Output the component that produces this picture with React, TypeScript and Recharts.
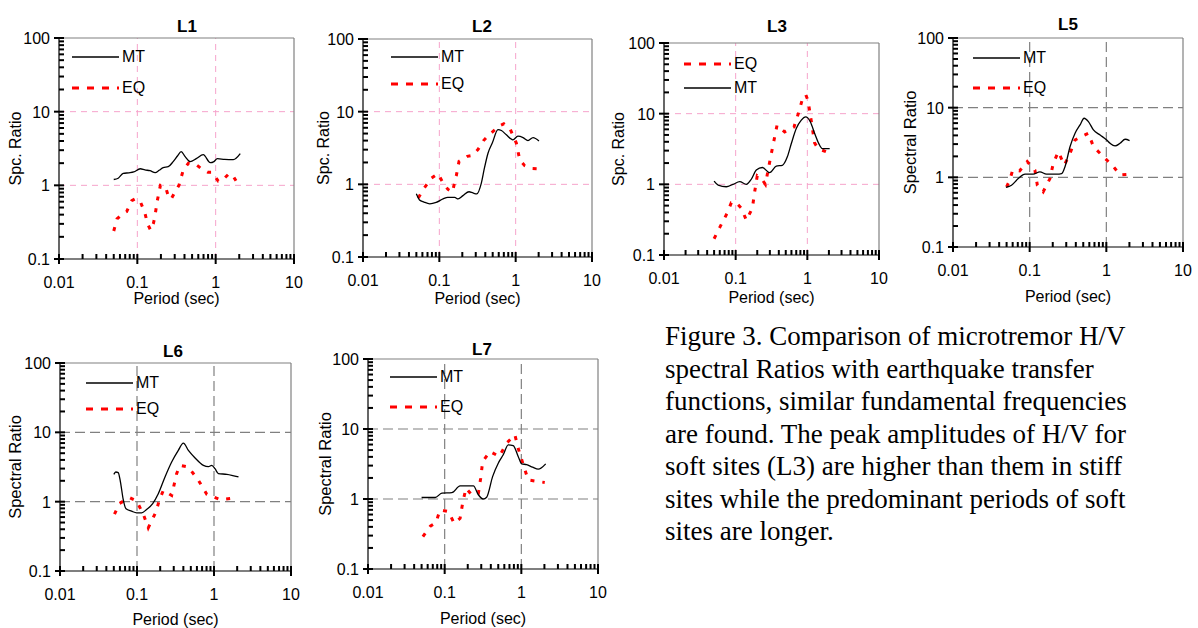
import React from 'react';
import { LineChart, Line, XAxis, YAxis, ReferenceLine, Legend } from 'recharts';

// axis ticks (log decades, minor ticks at 2..9)
const X_MAJOR = [0.01, 0.1, 1, 10];
const Y_MAJOR = [0.1, 1, 10, 100];
const MANTISSA = [1, 2, 3, 4, 5, 6, 7, 8, 9];
const X_TICKS = [...X_MAJOR.slice(0, 3).flatMap((d) => MANTISSA.map((m) => +(m * d).toPrecision(2))), 10];
const Y_TICKS = [...Y_MAJOR.slice(0, 3).flatMap((d) => MANTISSA.map((m) => +(m * d).toPrecision(2))), 100];

// L1
const L1_MT_T = [0.05, 0.057, 0.066, 0.078, 0.09, 0.109, 0.125, 0.145, 0.169, 0.19, 0.214, 0.248, 0.287, 0.325, 0.363, 0.408, 0.473, 0.565, 0.694, 0.853, 0.95, 1.05, 1.3, 1.68, 2.06];
const L1_MT = [1.2, 1.25, 1.45, 1.48, 1.52, 1.68, 1.62, 1.58, 1.49, 1.6, 1.74, 1.79, 2.1, 2.5, 2.87, 2.45, 2.1, 2.3, 2.61, 2.03, 2.1, 2.3, 2.25, 2.23, 2.69];
const L1_EQ_T = [0.05, 0.055, 0.063, 0.073, 0.085, 0.095, 0.11, 0.125, 0.135, 0.148, 0.16, 0.167, 0.18, 0.197, 0.215, 0.23, 0.25, 0.27, 0.3, 0.34, 0.385, 0.45, 0.55, 0.65, 0.8, 0.9, 1.08, 1.2, 1.49, 1.7, 1.94, 2.05];
const L1_EQ = [0.24, 0.35, 0.4, 0.44, 0.62, 0.66, 0.59, 0.42, 0.3, 0.245, 0.3, 0.37, 0.62, 1.0, 0.98, 0.94, 0.7, 0.65, 0.8, 1.0, 1.6, 2.0, 1.95, 1.7, 1.5, 1.5, 1.14, 1.15, 1.45, 1.3, 1.02, 0.95];

// L2
const L2_MT_T = [0.05, 0.055, 0.063, 0.075, 0.091, 0.112, 0.129, 0.159, 0.176, 0.204, 0.245, 0.276, 0.31, 0.355, 0.39, 0.435, 0.494, 0.587, 0.65, 0.755, 0.92, 1.07, 1.25, 1.45, 1.69, 2.02];
const L2_MT = [0.74, 0.61, 0.57, 0.54, 0.565, 0.63, 0.66, 0.66, 0.63, 0.7, 0.79, 0.76, 0.74, 1.04, 1.68, 2.7, 3.7, 5.65, 5.5, 4.8, 4.1, 4.6, 4.4, 4.0, 4.4, 3.95];
const L2_EQ_T = [0.053, 0.062, 0.079, 0.096, 0.114, 0.13, 0.148, 0.167, 0.181, 0.233, 0.27, 0.32, 0.38, 0.447, 0.617, 0.7, 0.835, 1.02, 1.13, 1.31, 1.6, 2.02];
const L2_EQ = [0.65, 0.86, 1.22, 1.4, 1.01, 0.85, 0.78, 1.32, 2.07, 2.43, 2.5, 3.0, 4.0, 4.8, 6.4, 6.8, 5.96, 3.7, 2.18, 1.81, 1.65, 1.63];

// L3
const L3_MT_T = [0.05, 0.057, 0.074, 0.092, 0.114, 0.141, 0.166, 0.194, 0.236, 0.298, 0.369, 0.448, 0.526, 0.598, 0.703, 0.824, 0.948, 1.1, 1.27, 1.44, 1.62, 2.05];
const L3_MT = [1.11, 0.975, 0.925, 1.0, 1.09, 1.0, 1.19, 1.59, 1.73, 1.46, 1.81, 1.86, 2.45, 3.78, 6.2, 8.1, 9.0, 7.7, 5.2, 3.8, 3.2, 3.2];
const L3_EQ_T = [0.05, 0.06, 0.076, 0.087, 0.1, 0.12, 0.141, 0.171, 0.184, 0.2, 0.23, 0.26, 0.308, 0.339, 0.378, 0.483, 0.652, 0.76, 0.87, 0.95, 1.02, 1.17, 1.26, 1.41, 1.84, 2.05];
const L3_EQ = [0.17, 0.246, 0.39, 0.55, 0.56, 0.46, 0.31, 0.46, 0.78, 1.32, 1.2, 1.0, 2.45, 3.98, 6.87, 5.53, 6.5, 10.5, 17.3, 18.5, 15.5, 6.5, 3.87, 3.2, 2.88, 2.8];

// L5
const L5_MT_T = [0.049, 0.058, 0.071, 0.087, 0.111, 0.136, 0.166, 0.225, 0.261, 0.289, 0.336, 0.391, 0.454, 0.513, 0.584, 0.679, 0.83, 1.01, 1.12, 1.3, 1.51, 1.76, 2.01];
const L5_MT = [0.72, 0.77, 0.96, 1.11, 1.11, 1.2, 1.11, 1.11, 1.13, 1.42, 2.75, 4.3, 5.65, 7.05, 6.3, 4.79, 4.05, 3.44, 3.08, 2.82, 3.08, 3.52, 3.37];
const L5_EQ_T = [0.05, 0.055, 0.06, 0.074, 0.093, 0.117, 0.126, 0.15, 0.184, 0.203, 0.236, 0.283, 0.336, 0.391, 0.454, 0.584, 0.679, 0.916, 1.24, 1.51, 1.95];
const L5_EQ = [0.73, 0.91, 1.27, 1.24, 1.68, 1.27, 0.77, 0.62, 0.96, 1.58, 2.33, 1.5, 2.2, 3.44, 3.76, 4.3, 2.75, 1.98, 1.42, 1.08, 1.1];

// L6
const L6_MT_T = [0.05, 0.053, 0.057, 0.061, 0.066, 0.072, 0.085, 0.099, 0.115, 0.133, 0.16, 0.189, 0.231, 0.282, 0.344, 0.4, 0.465, 0.568, 0.729, 0.847, 0.935, 1.03, 1.14, 1.47, 2.08];
const L6_MT = [2.48, 2.68, 2.63, 1.92, 1.1, 0.79, 0.73, 0.69, 0.69, 0.77, 0.94, 1.3, 2.27, 3.73, 5.5, 7.0, 5.5, 4.27, 3.34, 3.2, 3.34, 2.99, 2.54, 2.48, 2.27];
const L6_EQ_T = [0.051, 0.059, 0.07, 0.081, 0.099, 0.12, 0.14, 0.176, 0.195, 0.22, 0.282, 0.327, 0.362, 0.465, 0.628, 0.806, 1.2, 1.98];
const L6_EQ = [0.66, 0.94, 1.05, 1.14, 1.02, 0.67, 0.42, 0.71, 1.05, 1.46, 1.23, 2.54, 3.34, 3.16, 2.03, 1.28, 1.07, 1.14];

// L7
const L7_MT_T = [0.05, 0.075, 0.092, 0.124, 0.159, 0.237, 0.275, 0.319, 0.353, 0.422, 0.5, 0.581, 0.675, 0.784, 0.91, 1.01, 1.17, 1.4, 1.66, 2.08];
const L7_MT = [1.05, 1.05, 1.21, 1.23, 1.54, 1.54, 1.15, 1.0, 1.06, 2.09, 3.25, 4.28, 5.94, 5.8, 4.05, 3.18, 3.1, 2.85, 2.67, 3.18];
const L7_EQ_T = [0.052, 0.065, 0.077, 0.087, 0.112, 0.133, 0.159, 0.172, 0.19, 0.225, 0.275, 0.295, 0.313, 0.39, 0.515, 0.643, 0.824, 0.91, 1.06, 1.23, 2.02];
const L7_EQ = [0.29, 0.41, 0.46, 0.7, 0.66, 0.45, 0.53, 0.89, 1.43, 1.15, 1.2, 1.98, 3.43, 4.77, 4.05, 6.28, 8.26, 5.3, 3.08, 1.87, 1.72];

const CAPTION = [
  'Figure 3. Comparison of microtremor H/V',
  'spectral Ratios with earthquake transfer',
  'functions, similar fundamental frequencies',
  'are found. The peak amplitudes of H/V for',
  'soft sites (L3) are higher than them in stiff',
  'sites while the predominant periods of soft',
  'sites are longer.',
];

const zip = (t: number[], v: number[]) => t.map((x, i) => ({ t: x, v: v[i] }));

const SANS = '"Liberation Sans", Arial, sans-serif';
const PINK = '#f6a3cb';
const GRAY = '#808080';
const EQ_DASH = '4 8';

type Key = 'MT' | 'EQ';

interface PanelProps {
  title: string;
  titleX: number;
  titleBase: number;
  plot: { x: number; y: number; w: number; h: number };
  yLabel: string;
  yLabelSize: number;
  yLabelOff: number;
  xLabelOff: number;
  grid: 'pink' | 'gray';
  legend: { dx: number; dy: number; gap: number; order: Key[] };
  mt: { t: number; v: number }[];
  eq: { t: number; v: number }[];
}

// bottom axis: inward tick marks, majors cross the axis and carry the label
const XTick = (props: any) => {
  const { x, y, payload } = props;
  const major = X_MAJOR.includes(payload.value);
  return (
    <g>
      <line x1={x} x2={x} y1={major ? y + 5 : y} y2={y - 5} stroke="#000" strokeWidth={2} />
      {major && (
        <text x={x} y={y + 29} textAnchor="middle" fontSize={16} fontFamily={SANS} fill="#000">
          {String(payload.value)}
        </text>
      )}
    </g>
  );
};

const YTick = (props: any) => {
  const { x, y, payload } = props;
  const major = Y_MAJOR.includes(payload.value);
  return (
    <g>
      <line x1={major ? x - 5 : x} x2={x + 5} y1={y} y2={y} stroke="#000" strokeWidth={2} />
      {major && (
        <text x={x - 9} y={y + 6} textAnchor="end" fontSize={16} fontFamily={SANS} fill="#000">
          {String(payload.value)}
        </text>
      )}
    </g>
  );
};

function LegendBox({ order, gap }: { order: Key[]; gap: number }) {
  return (
    <div style={{ position: 'relative', width: 110, height: gap + 20, fontFamily: SANS, fontSize: 16, color: '#000' }}>
      {order.map((k, i) => (
        <div key={k} style={{ position: 'absolute', left: 0, top: i * gap, height: 20, display: 'flex', alignItems: 'center' }}>
          <svg width={47} height={20} style={{ display: 'block' }}>
            {k === 'MT' ? (
              <line x1={0} x2={47} y1={10} y2={10} stroke="#000" strokeWidth={1.3} />
            ) : (
              <line x1={0} x2={47} y1={10} y2={10} stroke="#ff0000" strokeWidth={3} strokeDasharray="7 8" />
            )}
          </svg>
          <span style={{ lineHeight: '20px', marginLeft: 3 }}>{k}</span>
        </div>
      ))}
    </div>
  );
}

function Panel(p: PanelProps) {
  const gridColor = p.grid === 'pink' ? PINK : GRAY;
  const gridDash = p.grid === 'pink' ? '6 5' : '10 5';
  const gridWidth = p.grid === 'pink' ? 1 : 1.2;
  const width = p.plot.w + 70;
  const height = p.plot.h + 105;
  const xLabelY = 40 + p.plot.h + p.xLabelOff;
  const yLabelX = 60 - p.yLabelOff;
  const yLabelY = 40 + p.plot.h / 2;
  return (
    <>
      <div
        style={{
          position: 'absolute',
          left: p.titleX - 50,
          top: p.titleBase - 12,
          width: 100,
          textAlign: 'center',
          fontFamily: SANS,
          fontWeight: 'bold',
          fontSize: 17,
          lineHeight: '17px',
        }}
      >
        {p.title}
      </div>
      <div style={{ position: 'absolute', left: p.plot.x - 60, top: p.plot.y - 40 }}>
        <LineChart width={width} height={height} margin={{ top: 40, right: 10, left: 10, bottom: 5 }}>
          <ReferenceLine x={0.1} stroke={gridColor} strokeWidth={gridWidth} strokeDasharray={gridDash} />
          <ReferenceLine x={1} stroke={gridColor} strokeWidth={gridWidth} strokeDasharray={gridDash} />
          <ReferenceLine y={1} stroke={gridColor} strokeWidth={gridWidth} strokeDasharray={gridDash} />
          <ReferenceLine y={10} stroke={gridColor} strokeWidth={gridWidth} strokeDasharray={gridDash} />
          <ReferenceLine x={10} stroke={GRAY} strokeWidth={1.2} />
          <ReferenceLine y={100} stroke={GRAY} strokeWidth={1.2} />
          <XAxis
            dataKey="t"
            type="number"
            scale="log"
            domain={[0.01, 10]}
            allowDataOverflow
            ticks={X_TICKS}
            interval={0}
            height={60}
            tickSize={0}
            tickMargin={0}
            tickLine={false}
            axisLine={{ stroke: '#000', strokeWidth: 1.2 }}
            tick={XTick}
            label={{
              content: () => (
                <text x={60 + p.plot.w / 2} y={xLabelY} textAnchor="middle" fontSize={16} fontFamily={SANS} fill="#000">
                  Period (sec)
                </text>
              ),
            }}
          />
          <YAxis
            type="number"
            scale="log"
            domain={[0.1, 100]}
            allowDataOverflow
            ticks={Y_TICKS}
            interval={0}
            width={50}
            tickSize={0}
            tickMargin={0}
            tickLine={false}
            axisLine={{ stroke: '#000', strokeWidth: 1.2 }}
            tick={YTick}
            label={{
              content: () => (
                <text
                  x={yLabelX}
                  y={yLabelY}
                  transform={`rotate(-90, ${yLabelX}, ${yLabelY})`}
                  textAnchor="middle"
                  dy="0.36em"
                  fontSize={p.yLabelSize}
                  fontFamily={SANS}
                  fill="#000"
                >
                  {p.yLabel}
                </text>
              ),
            }}
          />
          <Legend
            layout="vertical"
            align="center"
            verticalAlign="middle"
            wrapperStyle={{ left: 60 + p.legend.dx, top: 40 + p.legend.dy - 10, width: 110 }}
            content={() => <LegendBox order={p.legend.order} gap={p.legend.gap} />}
          />
          <Line
            data={p.eq}
            dataKey="v"
            name="EQ"
            type="linear"
            stroke="#ff0000"
            strokeWidth={3}
            strokeDasharray={EQ_DASH}
            dot={false}
            isAnimationActive={false}
          />
          <Line
            data={p.mt}
            dataKey="v"
            name="MT"
            type="monotone"
            stroke="#000"
            strokeWidth={1.3}
            dot={false}
            isAnimationActive={false}
          />
        </LineChart>
      </div>
    </>
  );
}

export default function App() {
  return (
    <div style={{ position: 'absolute', left: 0, top: 0, width: 1198, height: 628, background: '#fff', overflow: 'hidden' }}>
      <Panel
        title="L1" titleX={187} titleBase={30}
        plot={{ x: 59, y: 38, w: 235, h: 221 }}
        yLabel="Spc. Ratio" yLabelSize={16} yLabelOff={44} xLabelOff={45} grid="pink"
        legend={{ dx: 13, dy: 19, gap: 31, order: ['MT', 'EQ'] }}
        mt={zip(L1_MT_T, L1_MT)} eq={zip(L1_EQ_T, L1_EQ)}
      />
      <Panel
        title="L2" titleX={482} titleBase={30}
        plot={{ x: 363, y: 39, w: 229, h: 218 }}
        yLabel="Spc. Ratio" yLabelSize={16} yLabelOff={40} xLabelOff={47} grid="pink"
        legend={{ dx: 28, dy: 18, gap: 27, order: ['MT', 'EQ'] }}
        mt={zip(L2_MT_T, L2_MT)} eq={zip(L2_EQ_T, L2_EQ)}
      />
      <Panel
        title="L3" titleX={777} titleBase={30}
        plot={{ x: 664, y: 43, w: 215, h: 212 }}
        yLabel="Spc. Ratio" yLabelSize={16} yLabelOff={46} xLabelOff={48} grid="pink"
        legend={{ dx: 20, dy: 21, gap: 24, order: ['EQ', 'MT'] }}
        mt={zip(L3_MT_T, L3_MT)} eq={zip(L3_EQ_T, L3_EQ)}
      />
      <Panel
        title="L5" titleX={1068} titleBase={28}
        plot={{ x: 953, y: 38, w: 230, h: 209 }}
        yLabel="Spectral Ratio" yLabelSize={16.5} yLabelOff={43} xLabelOff={55} grid="gray"
        legend={{ dx: 20, dy: 20, gap: 30, order: ['MT', 'EQ'] }}
        mt={zip(L5_MT_T, L5_MT)} eq={zip(L5_EQ_T, L5_EQ)}
      />
      <Panel
        title="L6" titleX={173} titleBase={355}
        plot={{ x: 60, y: 363, w: 231, h: 208 }}
        yLabel="Spectral Ratio" yLabelSize={16.5} yLabelOff={45} xLabelOff={54} grid="gray"
        legend={{ dx: 26, dy: 20, gap: 26, order: ['MT', 'EQ'] }}
        mt={zip(L6_MT_T, L6_MT)} eq={zip(L6_EQ_T, L6_EQ)}
      />
      <Panel
        title="L7" titleX={482} titleBase={353}
        plot={{ x: 368, y: 359, w: 230, h: 210 }}
        yLabel="Spectral Ratio" yLabelSize={16.5} yLabelOff={43} xLabelOff={55} grid="gray"
        legend={{ dx: 22, dy: 18, gap: 30, order: ['MT', 'EQ'] }}
        mt={zip(L7_MT_T, L7_MT)} eq={zip(L7_EQ_T, L7_EQ)}
      />
      <div
        style={{
          position: 'absolute',
          left: 665,
          top: 320,
          fontFamily: '"Liberation Serif", "Times New Roman", serif',
          fontSize: 27,
          lineHeight: '32.5px',
          whiteSpace: 'pre',
          color: '#000',
        }}
      >
        {CAPTION.map((line) => (
          <div key={line}>{line}</div>
        ))}
      </div>
    </div>
  );
}
